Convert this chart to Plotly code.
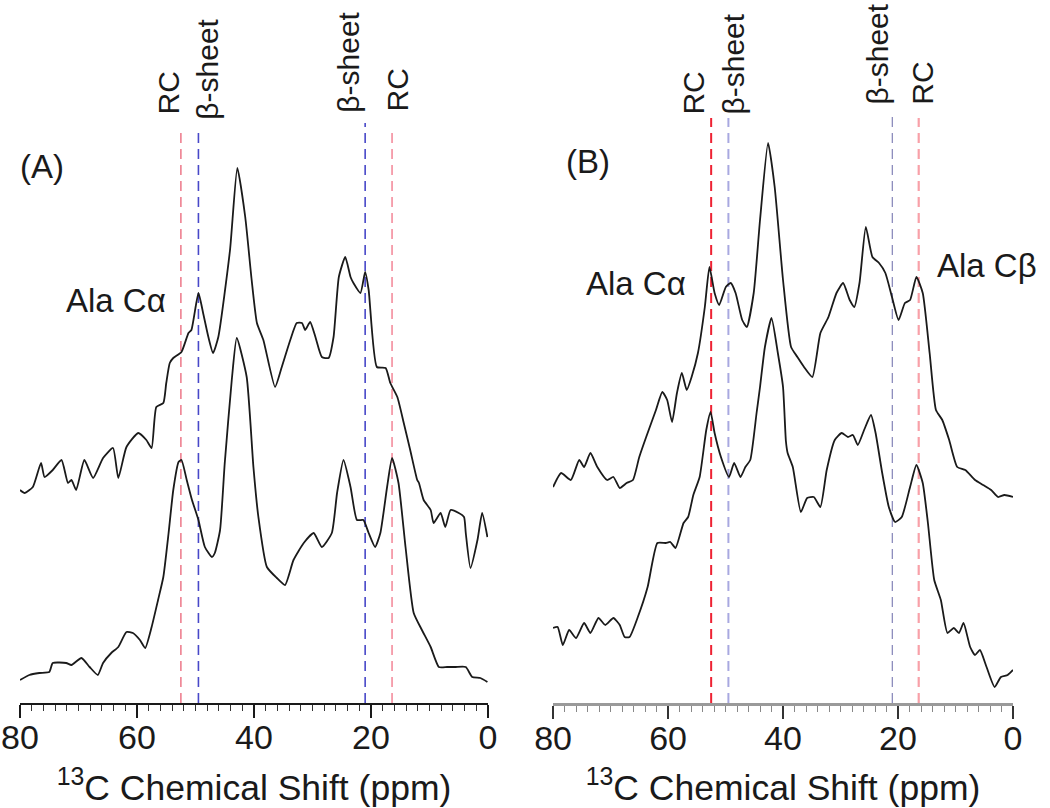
import plotly.graph_objects as go

# ---------------- data ----------------
# Panel A, upper spectrum
A_top_ppm = [80.0, 79.2, 77.8, 76.4, 75.8, 74.4, 72.9, 71.8, 71.2, 70.4, 69.0, 67.5, 65.8, 64.1, 63.2,
             61.8, 59.8, 58.4, 57.5, 56.7, 55.5, 55.0, 54.4, 53.8, 52.4, 51.2, 50.7, 49.5, 48.7, 47.8,
             47.0, 46.1, 44.1, 42.85, 41.5, 40.4, 39.5, 38.4, 36.4, 35.25, 33.8, 32.7, 31.8, 31.25, 30.4,
             29.5, 28.4, 27.25, 26.4, 25.5, 24.4, 23.5, 23.0, 21.8, 21.0, 20.4, 19.0, 17.5, 16.7, 15.5,
             14.4, 13.3, 12.1, 11.8, 11.0, 9.8, 9.3, 8.1, 7.3, 6.4, 5.0, 4.1, 3.8, 3.0, 1.8, 1.0, 0.1]
A_top_int = [213, 210, 216, 240, 226, 233, 243, 220, 223, 213, 243, 225, 245, 255, 225,
             256, 270, 263, 255, 296, 300, 320, 340, 345, 351, 370, 373, 410, 390, 366,
             350, 366, 453, 535, 486, 423, 380, 363, 316, 336, 363, 380, 380, 373, 381,
             366, 346, 345, 366, 426, 446, 426, 420, 410, 431, 413, 336, 335, 320, 306,
             280, 253, 223, 220, 203, 193, 180, 190, 176, 193, 190, 186, 170, 135, 163, 190, 166]

# Panel A, lower spectrum
A_bot_ppm = [80.0, 78.4, 76.7, 75.0, 74.4, 72.1, 71.2, 69.5, 68.1, 66.7, 65.8, 64.4, 63.2, 61.8, 60.7,
             59.5, 58.6, 57.5, 56.4, 55.5, 54.6, 53.8, 52.9, 52.4, 51.5, 50.6, 49.5, 48.4, 47.2, 46.7,
             45.8, 45.0, 43.8, 42.95, 41.25, 40.1, 39.25, 37.8, 36.1, 34.7, 33.25, 31.5, 29.8, 28.4, 26.7,
             25.8, 24.7, 23.5, 22.4, 21.3, 20.4, 19.3, 18.4, 17.25, 16.4, 15.3, 14.1, 12.7, 11.3, 9.8,
             8.4, 7.0, 5.55, 3.8, 2.7, 1.3, 0.1]
A_bot_int = [23, 28, 30, 31, 40, 40, 38, 45, 36, 28, 40, 50, 56, 71, 70,
             63, 55, 76, 103, 126, 170, 213, 241, 243, 223, 203, 183, 156, 146, 150,
             173, 240, 323, 365, 326, 236, 186, 136, 125, 118, 143, 160, 170, 156, 170,
             210, 243, 216, 183, 183, 170, 156, 170, 216, 245, 220, 156, 90, 73, 56,
             36, 36, 36, 36, 26, 25, 21]

# Panel B, upper spectrum
B_top_ppm = [80.0, 78.6, 76.9, 75.45, 74.6, 73.5, 72.3, 70.6, 69.5, 68.4, 67.2, 66.1, 65.0, 63.8, 62.1,
             61.0, 60.15, 59.3, 58.45, 57.6, 56.75, 55.9, 54.8, 53.6, 52.8, 51.9, 51.1, 49.95, 49.1, 48.25,
             47.1, 46.3, 45.1, 44.0, 42.6, 41.45, 40.0, 38.6, 37.5, 36.35, 34.9, 33.5, 32.1, 30.7, 29.55,
             28.4, 27.6, 26.7, 25.6, 24.45, 23.3, 22.2, 21.05, 19.9, 18.8, 17.9, 16.8, 15.7, 14.5, 13.4,
             12.3, 11.1, 9.7, 8.3, 6.6, 5.2, 3.8, 2.6, 1.5, 0.0]
B_top_int = [216, 230, 223, 243, 236, 250, 236, 223, 226, 215, 220, 223, 246, 266, 293,
             311, 303, 281, 310, 330, 313, 326, 350, 396, 436, 410, 398, 416, 420, 410,
             383, 376, 410, 483, 560, 516, 423, 356, 346, 336, 326, 370, 386, 410, 420,
             403, 396, 420, 476, 446, 440, 430, 406, 383, 400, 403, 426, 410, 350, 293,
             283, 263, 236, 233, 223, 218, 213, 206, 208, 206]

# Panel B, lower spectrum
B_bot_ppm = [80.0, 79.2, 78.3, 77.2, 76.0, 74.6, 73.5, 72.1, 70.9, 69.5, 68.4, 67.55, 66.7, 65.25, 63.55,
             61.85, 60.4, 59.6, 58.7, 57.3, 56.5, 55.6, 54.5, 53.35, 52.6, 51.9, 50.8, 49.4, 48.5, 47.4,
             46.55, 45.7, 44.6, 44.0, 43.15, 42.0, 40.9, 40.0, 39.5, 39.2, 38.3, 36.9, 35.8, 34.65, 33.5,
             32.4, 31.0, 29.8, 28.7, 27.85, 27.0, 25.9, 24.7, 23.9, 22.75, 21.6, 20.5, 19.35, 17.9, 16.8,
             15.7, 14.8, 13.7, 12.55, 11.4, 10.3, 9.4, 8.6, 7.45, 6.6, 5.75, 4.6, 3.2, 2.1, 0.93, 0.0]
B_bot_int = [75, 76, 58, 73, 65, 80, 70, 85, 78, 85, 78, 66, 66, 86, 116,
             160, 160, 161, 155, 180, 186, 208, 226, 273, 291, 270, 246, 226, 240, 226,
             236, 243, 290, 316, 356, 385, 350, 316, 262, 250, 236, 191, 205, 206, 196,
             233, 263, 270, 266, 268, 258, 273, 288, 270, 230, 196, 181, 186, 216, 238,
             220, 180, 123, 103, 70, 75, 70, 80, 56, 48, 53, 36, 16, 26, 28, 33]

# reference chemical shifts (ppm)
ref_labels = ["RC", "β-sheet", "β-sheet", "RC"]
ref_ppm = [52.5, 49.5, 21.0, 16.4]

tick_vals = [0, 20, 40, 60, 80]
x_title = "<sup>13</sup>C Chemical Shift (ppm)"

# ---------------- figure ----------------
FONT = "Liberation Sans, Arial, Helvetica, sans-serif"
INK = "#1a1a1a"

fig = go.Figure()
for xs, ys, xa, ya in [(A_top_ppm, A_top_int, "x", "y"), (A_bot_ppm, A_bot_int, "x", "y"),
                       (B_top_ppm, B_top_int, "x2", "y2"), (B_bot_ppm, B_bot_int, "x2", "y2")]:
    fig.add_trace(go.Scatter(x=xs, y=ys, xaxis=xa, yaxis=ya, mode="lines",
                             line=dict(color=INK, width=1.8, shape="spline", smoothing=0.5),
                             showlegend=False, hoverinfo="skip"))

# dashed reference lines
lineA = [dict(color="#ee8090", width=1.6), dict(color="#4848c8", width=1.6),
         dict(color="#4848c8", width=1.6), dict(color="#f59aa8", width=1.8)]
lineB = [dict(color="#ee2233", width=2.0), dict(color="#a8a8e0", width=2.0),
         dict(color="#6a6aa8", width=1.0), dict(color="#f8a0a8", width=2.2)]
topA = [576, 576, 580, 576]
topB = [585, 585, 587, 585]
for i, p in enumerate(ref_ppm):
    fig.add_shape(type="line", xref="x", yref="y", x0=p, x1=p, y0=0, y1=topA[i],
                  line=dict(dash="10px,6px", **lineA[i]), layer="below")
    fig.add_shape(type="line", xref="x2", yref="y2", x0=p, x1=p, y0=0, y1=topB[i],
                  line=dict(dash="10px,6px", **lineB[i]), layer="below")

# rotated labels above the reference lines
labA_x = [54.7, 48.0, 23.9, 15.4]
labA_y = [586, 581, 588, 590]
labB_x = [55.65, 48.7, 23.65, 15.8]
labB_y = [586, 586, 596, 596]
for i, t in enumerate(ref_labels):
    fig.add_annotation(text=t, x=labA_x[i], y=labA_y[i], xref="x", yref="y", textangle=-90,
                       xanchor="center", yanchor="bottom", showarrow=False,
                       font=dict(family=FONT, size=30, color=INK))
    fig.add_annotation(text=t, x=labB_x[i], y=labB_y[i], xref="x2", yref="y2", textangle=-90,
                       xanchor="center", yanchor="bottom", showarrow=False,
                       font=dict(family=FONT, size=30, color=INK))

# peak and panel labels
texts = [("(A)", 76.3, 537, "x", "y"), ("Ala Cα", 63.6, 403, "x", "y"), ("Ala Cβ", -2.1, 361, "x", "y"),
         ("(B)", 74.0, 542, "x2", "y2"), ("Ala Cα", 65.5, 420, "x2", "y2"), ("Ala Cβ", 4.5, 438, "x2", "y2")]
for t, x, y, xr, yr in texts:
    fig.add_annotation(text=t, x=x, y=y, xref=xr, yref=yr, xanchor="center", yanchor="middle",
                       showarrow=False, font=dict(family=FONT, size=33, color=INK))

axis_common = dict(range=[80, 0], tickvals=tick_vals, ticks="outside", ticklen=13, tickwidth=1.6,
                   showgrid=False, zeroline=False, showline=True, automargin=False,
                   ticklabelstandoff=-10, ticklabeloverflow="allow",
                   tickfont=dict(family=FONT, size=34, color=INK),
                   title=dict(text=x_title, font=dict(family=FONT, size=35.5, color=INK), standoff=21))
fig.update_layout(
    width=1050, height=808,
    margin=dict(l=20, r=37, t=0, b=105, autoexpand=False),
    paper_bgcolor="white", plot_bgcolor="white",
    xaxis=dict(domain=[0, 0.4713], anchor="y", linecolor=INK, linewidth=1.6, tickcolor=INK,
               minor=dict(dtick=2, ticks="outside", ticklen=6, tickwidth=1.2, tickcolor="#333"),
               **axis_common),
    xaxis2=dict(domain=[0.5368, 1.0], anchor="y2", linecolor="#9a9a9a", linewidth=2.6, tickcolor="#333",
                minor=dict(dtick=2, ticks="outside", ticklen=6, tickwidth=1.4, tickcolor="#888"),
                **axis_common),
    yaxis=dict(domain=[0, 1], range=[0, 703], visible=False, anchor="x"),
    yaxis2=dict(domain=[0, 1], range=[0, 703], visible=False, anchor="x2"),
)

# remove the default 8 px page margin so the 1050x808 figure fills the window exactly
fig.write_html("out.html", config={"displayModeBar": False},
               post_script="document.body.style.margin='0px';")
